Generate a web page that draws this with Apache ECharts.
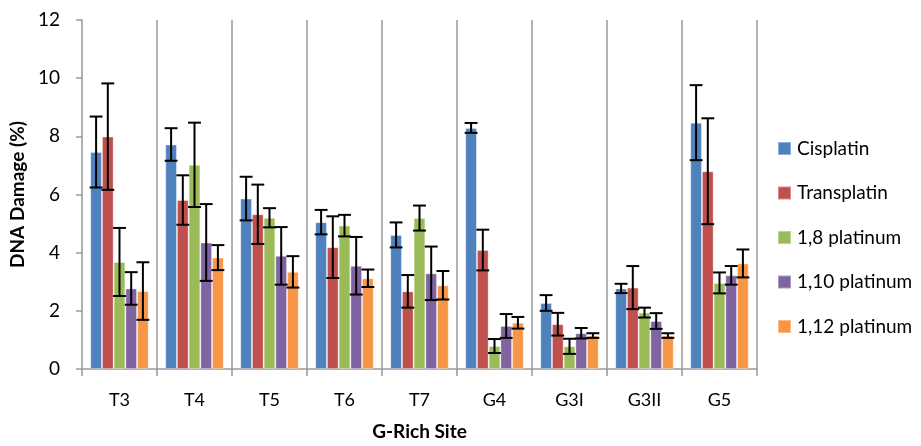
<!DOCTYPE html>
<html><head><meta charset="utf-8">
<script src="https://cdn.jsdelivr.net/npm/echarts@6/dist/echarts.min.js"></script>
<style>html,body{margin:0;padding:0;background:#fff}#c{width:921px;height:446px}</style>
</head><body><div id="c"></div>
<script>
var categories = ['T3','T4','T5','T6','T7','G4','G3I','G3II','G5'];
var seriesNames = ['Cisplatin','Transplatin','1,8 platinum','1,10 platinum','1,12 platinum'];
var yTicks = [0,2,4,6,8,10,12];
var cisplatin   = [7.46, 7.72, 5.86, 5.05, 4.61, 8.29, 2.27, 2.77, 8.47];
var transplatin = [7.99, 5.81, 5.32, 4.19, 2.67, 4.09, 1.54, 2.80, 6.80];
var plat18      = [3.68, 7.02, 5.20, 4.93, 5.19, 0.79, 0.78, 1.94, 2.96];
var plat110     = [2.77, 4.35, 3.89, 3.55, 3.29, 1.48, 1.23, 1.65, 3.22];
var plat112     = [2.68, 3.83, 3.34, 3.12, 2.88, 1.59, 1.15, 1.15, 3.63];
var errCis   = [1.22, 0.56, 0.75, 0.42, 0.43, 0.17, 0.27, 0.16, 1.29];
var errTrans = [1.83, 0.85, 1.02, 1.06, 0.56, 0.70, 0.39, 0.74, 1.82];
var err18    = [1.17, 1.45, 0.33, 0.37, 0.43, 0.24, 0.26, 0.17, 0.36];
var err110   = [0.56, 1.32, 0.99, 0.99, 0.92, 0.41, 0.18, 0.27, 0.32];
var err112   = [0.99, 0.43, 0.54, 0.30, 0.49, 0.20, 0.08, 0.08, 0.48];

var values = [cisplatin, transplatin, plat18, plat110, plat112];
var errors = [errCis, errTrans, err18, err110, err112];
var colors = ['#4F81BD','#C0504D','#9BBB59','#8064A2','#F79646'];
var GAP = 0.22;
var FONT = 'Lato, "Open Sans", sans-serif';

var series = [];
values.forEach(function(v, i){
  series.push({
    name: seriesNames[i], type: 'bar', data: v, barGap: '0%', barCategoryGap: (GAP*100)+'%',
    itemStyle: {color: colors[i], borderColor: 'rgba(255,255,255,0.35)', borderWidth: 1},
    z: 2
  });
});
values.forEach(function(v, i){
  var data = v.map(function(val, k){ return [k, val - errors[i][k], val + errors[i][k]]; });
  series.push({
    type: 'custom', z: 10, silent: true, data: data,
    renderItem: function(params, api){
      var k = api.value(0);
      var lo = api.coord([k, api.value(1)]);
      var hi = api.coord([k, api.value(2)]);
      var cw = api.size([1, 0])[0];
      var bw = cw * (1 - GAP) / values.length;
      var x = lo[0] + (i - (values.length - 1) / 2) * bw;
      var cap = bw * 0.55;
      var st = {stroke: '#000', lineWidth: 2};
      return {type: 'group', children: [
        {type: 'line', shape: {x1: x, y1: lo[1], x2: x, y2: hi[1]}, style: st},
        {type: 'line', shape: {x1: x - cap, y1: hi[1], x2: x + cap, y2: hi[1]}, style: st},
        {type: 'line', shape: {x1: x - cap, y1: lo[1], x2: x + cap, y2: lo[1]}, style: st}
      ]};
    }
  });
});

var chart = echarts.init(document.getElementById('c'), null, {renderer: 'canvas'});
chart.setOption({
  animation: false,
  textStyle: {fontFamily: FONT},
  grid: {left: 82, right: 164, top: 20, bottom: 72, containLabel: false},
  legend: {
    orient: 'vertical', left: 777, top: 139, padding: 0, itemWidth: 13, itemHeight: 13, itemGap: 25.5,
    icon: 'rect', data: seriesNames,
    textStyle: {fontFamily: FONT, fontSize: 19, color: '#000', padding: [0,0,0,1]}
  },
  xAxis: {
    type: 'category', data: categories,
    name: 'G-Rich Site', nameLocation: 'middle', nameGap: 53,
    nameTextStyle: {fontFamily: FONT, fontSize: 19, fontWeight: 'bold', color: '#000'},
    axisLine: {lineStyle: {color: '#999', width: 1.5}},
    axisTick: {show: true, length: 7, lineStyle: {color: '#999', width: 1.5}},
    axisLabel: {fontFamily: FONT, fontSize: 18, color: '#000', margin: 22},
    splitLine: {show: true, showMinLine: false, lineStyle: {color: '#999', width: 1.5}}
  },
  yAxis: {
    type: 'value', min: yTicks[0], max: yTicks[yTicks.length-1], interval: 2,
    name: 'DNA Damage (%)', nameLocation: 'middle', nameGap: 53, nameRotate: 90,
    nameTextStyle: {fontFamily: FONT, fontSize: 19, fontWeight: 'bold', color: '#000'},
    axisLine: {show: true, lineStyle: {color: '#999', width: 1.5}},
    axisTick: {show: true, length: 6, lineStyle: {color: '#999', width: 1.5}},
    axisLabel: {fontFamily: FONT, fontSize: 19, color: '#000', margin: 22},
    splitLine: {show: false}
  },
  series: series
});
</script></body></html>
